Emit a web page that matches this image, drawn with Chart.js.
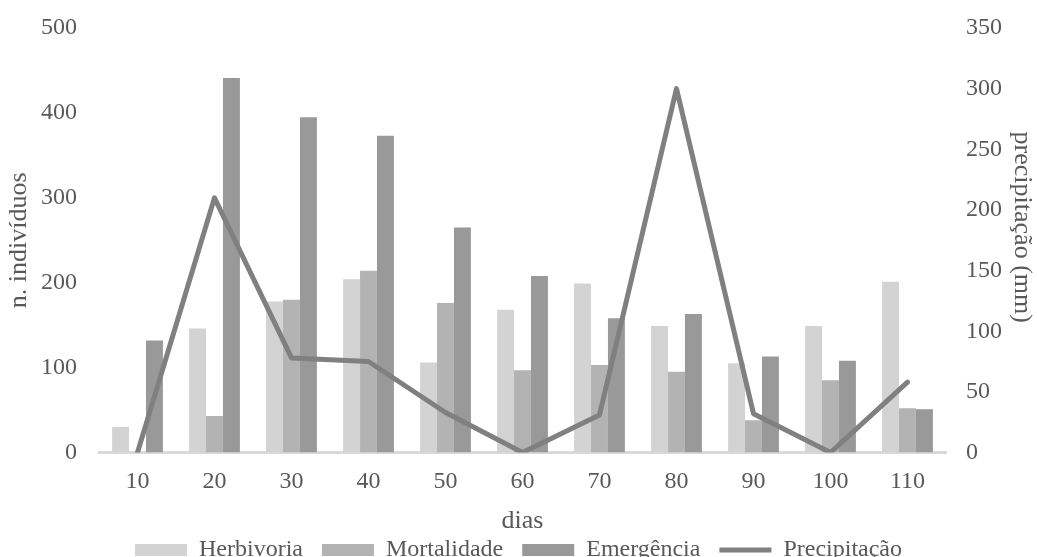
<!DOCTYPE html>
<html>
<head>
<meta charset="utf-8">
<script src="https://cdn.jsdelivr.net/npm/chart.js@4.4.0/dist/chart.umd.min.js"></script>
<style>
  html, body { margin: 0; padding: 0; background: #fff; overflow: hidden; }
  #wrap { width: 1037px; height: 557px; }
</style>
</head>
<body>
<div id="wrap"><canvas id="chart" width="1037" height="557"></canvas></div>
<script>
const dias = ['10', '20', '30', '40', '50', '60', '70', '80', '90', '100', '110'];
const herbivoria = [30, 146, 178, 204, 106, 168, 199, 149, 105, 149, 201];
const mortalidade = [0, 43, 180, 214, 176, 97, 103, 95, 38, 85, 52];
const emergencia = [132, 441, 395, 373, 265, 208, 158, 163, 113, 108, 51];
const precipitacao = [0, 210, 78, 75, 33, 0, 31, 300, 32, 0, 58];

const leftTicks = [0, 100, 200, 300, 400, 500];
const rightTicks = [0, 50, 100, 150, 200, 250, 300, 350];

const textColor = '#595959';
const titleFont = { size: 26 };
Chart.defaults.font.family = "'Times New Roman', 'Liberation Serif', serif";
Chart.defaults.font.size = 24;
Chart.defaults.color = textColor;

// fixed side widths; the tick padding should not push the plot top down
function fitSide(width) {
  return s => {
    s.width = width;
    s.paddingTop = 0;
    s.paddingBottom = 0;
  };
}

const ctx = document.getElementById('chart').getContext('2d');
new Chart(ctx, {
  type: 'bar',
  data: {
    labels: dias,
    datasets: [
      { label: 'Herbivoria', data: herbivoria, backgroundColor: '#d3d3d3', yAxisID: 'y', order: 1 },
      { label: 'Mortalidade', data: mortalidade, backgroundColor: '#b3b3b3', yAxisID: 'y', order: 1 },
      { label: 'Emergência', data: emergencia, backgroundColor: '#999999', yAxisID: 'y', order: 1 },
      {
        type: 'line', label: 'Precipitação', data: precipitacao, yAxisID: 'y1', order: 0,
        borderColor: '#808080', backgroundColor: '#808080', borderWidth: 5,
        pointRadius: 0, tension: 0, borderJoinStyle: 'round', borderCapStyle: 'round'
      }
    ]
  },
  options: {
    responsive: false,
    animation: false,
    layout: { padding: { top: 28, bottom: -15, left: 0, right: 0 } },
    datasets: { bar: { categoryPercentage: 0.66, barPercentage: 1, borderWidth: 0 } },
    plugins: {
      tooltip: { enabled: false },
      legend: {
        position: 'bottom',
        labels: {
          usePointStyle: true,
          pointStyleWidth: 52,
          boxHeight: 12,
          padding: 19,
          color: textColor,
          font: { size: 24 },
          sort: (a, b) => a.datasetIndex - b.datasetIndex,
          generateLabels(chart) {
            const items = Chart.defaults.plugins.legend.labels.generateLabels(chart);
            items.forEach(it => {
              const ds = chart.data.datasets[it.datasetIndex];
              it.pointStyle = ds.type === 'line' ? 'line' : 'rect';
              it.lineWidth = ds.type === 'line' ? 5 : 0;
            });
            return items;
          }
        }
      }
    },
    scales: {
      x: {
        grid: { display: false, drawTicks: false },
        border: { display: true, color: '#d9d9d9', width: 3 },
        ticks: { padding: 15, color: textColor },
        title: { display: true, text: 'dias', color: textColor, font: titleFont, padding: { top: -6, bottom: -17.5 } }
      },
      y: {
        position: 'left',
        min: 0, max: 500,
        afterBuildTicks: s => { s.ticks = leftTicks.map(v => ({ value: v })); },
        afterFit: fitSide(99),
        grid: { display: false, drawTicks: false },
        border: { display: false },
        ticks: { padding: 22, color: textColor },
        title: { display: true, text: 'n. indivíduos', color: textColor, font: titleFont, padding: { top: 4 } }
      },
      y1: {
        position: 'right',
        min: 0, max: 350,
        afterBuildTicks: s => { s.ticks = rightTicks.map(v => ({ value: v })); },
        afterFit: fitSide(91),
        grid: { display: false, drawTicks: false },
        border: { display: false },
        ticks: { padding: 20, color: textColor },
        title: { display: true, text: 'precipitação (mm)\u00a0\u00a0\u00a0\u00a0', color: textColor, font: titleFont, padding: { top: 0 } }
      }
    }
  }
});
</script>
</body>
</html>
